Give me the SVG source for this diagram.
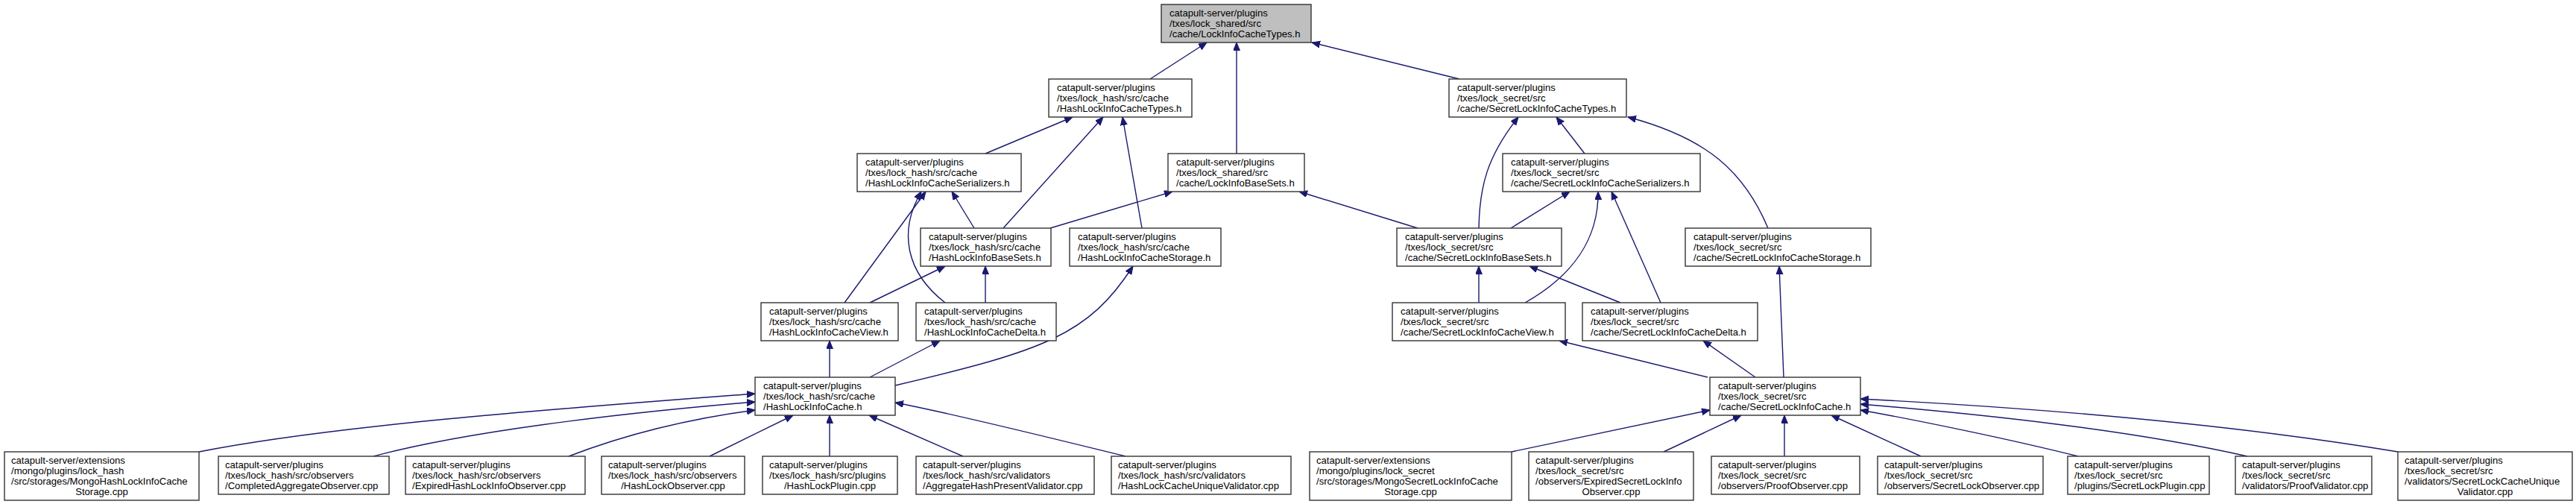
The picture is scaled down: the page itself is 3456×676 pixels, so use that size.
<svg xmlns="http://www.w3.org/2000/svg" width="3456" height="676" viewBox="0 0 3456 676">
<style>
.box{fill:#ffffff;stroke:#333333;stroke-width:1.4}
.root{fill:#bfbfbf;stroke:#333333;stroke-width:1.4}
text{font-family:"Liberation Sans",Arial,Helvetica,sans-serif;font-size:13.1px;fill:#000000}
.c{text-anchor:middle}
.e{fill:none;stroke:#191970;stroke-width:1.4;marker-end:url(#arr)}
</style>
<defs>
<marker id="arr" markerUnits="userSpaceOnUse" markerWidth="13" markerHeight="11" refX="11" refY="4.5" orient="auto">
<path d="M0,0 L11,4.5 L0,9 z" fill="#191970" stroke="#191970" stroke-width="1"/>
</marker>
</defs>
<rect width="3456" height="676" fill="#ffffff"/>
<g id="edges">
<path class="e" d="M1543,106 L1619,57"/>
<path class="e" d="M1659,206 L1659,57"/>
<path class="e" d="M1958,106 L1760,57"/>
<path class="e" d="M1322,206 L1439,157"/>
<path class="e" d="M1346,306 L1480,157"/>
<path class="e" d="M1532,306 L1506,157"/>
<path class="e" d="M1984,306 C1985,250 1995,210 2037,157"/>
<path class="e" d="M2126,206 L2088,157"/>
<path class="e" d="M2372,306 C2340,230 2290,185 2184,157"/>
<path class="e" d="M1133,406 L1242,257"/>
<path class="e" d="M1268,406 C1215,365 1205,310 1236,257"/>
<path class="e" d="M1307,306 L1277,257"/>
<path class="e" d="M1409,306 L1573,257"/>
<path class="e" d="M1902,306 L1743,257"/>
<path class="e" d="M1167,406 L1268,357"/>
<path class="e" d="M1322,406 L1322,357"/>
<path class="e" d="M1201,517 C1400,470 1460,450 1520,357"/>
<path class="e" d="M2027,306 L2106,257"/>
<path class="e" d="M2046,406 C2110,370 2145,320 2144,257"/>
<path class="e" d="M2228,406 L2162,257"/>
<path class="e" d="M1984,406 L1984,357"/>
<path class="e" d="M2174,406 L2052,357"/>
<path class="e" d="M2393,506 L2387,357"/>
<path class="e" d="M1113,506 L1113,457"/>
<path class="e" d="M1167,506 L1261,457"/>
<path class="e" d="M2291,506 L2092,457"/>
<path class="e" d="M2355,506 L2285,457"/>
<path class="e" d="M267,606 C450,570 750,548 1013,528"/>
<path class="e" d="M501,612 C620,580 820,555 1013,539"/>
<path class="e" d="M763,612 C820,590 900,565 1013,550"/>
<path class="e" d="M952,612 L1064,557"/>
<path class="e" d="M1113,612 L1113,557"/>
<path class="e" d="M1292,612 L1166,557"/>
<path class="e" d="M1510,612 C1400,585 1280,555 1201,540"/>
<path class="e" d="M2028,606 L2294,550"/>
<path class="e" d="M2232,606 L2336,557"/>
<path class="e" d="M2394,612 L2394,557"/>
<path class="e" d="M2577,612 L2457,557"/>
<path class="e" d="M2788,612 C2700,590 2580,565 2496,550"/>
<path class="e" d="M3015,612 C2850,575 2650,555 2496,542"/>
<path class="e" d="M3217,606 C3000,570 2750,548 2496,535"/>
</g>
<g id="n0"><rect class="root" x="1558" y="6" width="201" height="51"/>
<text x="1569" y="22">catapult-server/plugins</text><text x="1569" y="36">/txes/lock_shared/src</text><text x="1569" y="50">/cache/LockInfoCacheTypes.h</text></g>
<g id="n1"><rect class="box" x="1407" y="106" width="192" height="51"/>
<text x="1418" y="122">catapult-server/plugins</text><text x="1418" y="136">/txes/lock_hash/src/cache</text><text x="1418" y="150">/HashLockInfoCacheTypes.h</text></g>
<g id="n2"><rect class="box" x="1944" y="106" width="238" height="51"/>
<text x="1955" y="122">catapult-server/plugins</text><text x="1955" y="136">/txes/lock_secret/src</text><text x="1955" y="150">/cache/SecretLockInfoCacheTypes.h</text></g>
<g id="n3"><rect class="box" x="1150" y="206" width="220" height="51"/>
<text x="1161" y="222">catapult-server/plugins</text><text x="1161" y="236">/txes/lock_hash/src/cache</text><text x="1161" y="250">/HashLockInfoCacheSerializers.h</text></g>
<g id="n4"><rect class="box" x="1567" y="206" width="183" height="51"/>
<text x="1578" y="222">catapult-server/plugins</text><text x="1578" y="236">/txes/lock_shared/src</text><text x="1578" y="250">/cache/LockInfoBaseSets.h</text></g>
<g id="n5"><rect class="box" x="2016" y="206" width="265" height="51"/>
<text x="2027" y="222">catapult-server/plugins</text><text x="2027" y="236">/txes/lock_secret/src</text><text x="2027" y="250">/cache/SecretLockInfoCacheSerializers.h</text></g>
<g id="n6"><rect class="box" x="1235" y="306" width="175" height="51"/>
<text x="1246" y="322">catapult-server/plugins</text><text x="1246" y="336">/txes/lock_hash/src/cache</text><text x="1246" y="350">/HashLockInfoBaseSets.h</text></g>
<g id="n7"><rect class="box" x="1435" y="306" width="203" height="51"/>
<text x="1446" y="322">catapult-server/plugins</text><text x="1446" y="336">/txes/lock_hash/src/cache</text><text x="1446" y="350">/HashLockInfoCacheStorage.h</text></g>
<g id="n8"><rect class="box" x="1874" y="306" width="221" height="51"/>
<text x="1885" y="322">catapult-server/plugins</text><text x="1885" y="336">/txes/lock_secret/src</text><text x="1885" y="350">/cache/SecretLockInfoBaseSets.h</text></g>
<g id="n9"><rect class="box" x="2261" y="306" width="249" height="51"/>
<text x="2272" y="322">catapult-server/plugins</text><text x="2272" y="336">/txes/lock_secret/src</text><text x="2272" y="350">/cache/SecretLockInfoCacheStorage.h</text></g>
<g id="n10"><rect class="box" x="1021" y="406" width="184" height="51"/>
<text x="1032" y="422">catapult-server/plugins</text><text x="1032" y="436">/txes/lock_hash/src/cache</text><text x="1032" y="450">/HashLockInfoCacheView.h</text></g>
<g id="n11"><rect class="box" x="1229" y="406" width="188" height="51"/>
<text x="1240" y="422">catapult-server/plugins</text><text x="1240" y="436">/txes/lock_hash/src/cache</text><text x="1240" y="450">/HashLockInfoCacheDelta.h</text></g>
<g id="n12"><rect class="box" x="1868" y="406" width="232" height="51"/>
<text x="1879" y="422">catapult-server/plugins</text><text x="1879" y="436">/txes/lock_secret/src</text><text x="1879" y="450">/cache/SecretLockInfoCacheView.h</text></g>
<g id="n13"><rect class="box" x="2123" y="406" width="235" height="51"/>
<text x="2134" y="422">catapult-server/plugins</text><text x="2134" y="436">/txes/lock_secret/src</text><text x="2134" y="450">/cache/SecretLockInfoCacheDelta.h</text></g>
<g id="n14"><rect class="box" x="1013" y="506" width="188" height="51"/>
<text x="1024" y="522">catapult-server/plugins</text><text x="1024" y="536">/txes/lock_hash/src/cache</text><text x="1024" y="550">/HashLockInfoCache.h</text></g>
<g id="n15"><rect class="box" x="2294" y="506" width="202" height="51"/>
<text x="2305" y="522">catapult-server/plugins</text><text x="2305" y="536">/txes/lock_secret/src</text><text x="2305" y="550">/cache/SecretLockInfoCache.h</text></g>
<g id="n16"><rect class="box" x="6" y="606" width="261" height="65"/>
<text x="15" y="622">catapult-server/extensions</text><text x="15" y="636">/mongo/plugins/lock_hash</text><text x="15" y="650">/src/storages/MongoHashLockInfoCache</text><text class="c" x="136.5" y="664">Storage.cpp</text></g>
<g id="n17"><rect class="box" x="293" y="612" width="229" height="51"/>
<text x="302" y="628">catapult-server/plugins</text><text x="302" y="642">/txes/lock_hash/src/observers</text><text x="302" y="656">/CompletedAggregateObserver.cpp</text></g>
<g id="n18"><rect class="box" x="544" y="612" width="241" height="51"/>
<text x="553" y="628">catapult-server/plugins</text><text x="553" y="642">/txes/lock_hash/src/observers</text><text x="553" y="656">/ExpiredHashLockInfoObserver.cpp</text></g>
<g id="n19"><rect class="box" x="807" y="612" width="192" height="51"/>
<text x="816" y="628">catapult-server/plugins</text><text x="816" y="642">/txes/lock_hash/src/observers</text><text class="c" x="903" y="656">/HashLockObserver.cpp</text></g>
<g id="n20"><rect class="box" x="1023" y="612" width="181" height="51"/>
<text x="1032" y="628">catapult-server/plugins</text><text x="1032" y="642">/txes/lock_hash/src/plugins</text><text class="c" x="1113.5" y="656">/HashLockPlugin.cpp</text></g>
<g id="n21"><rect class="box" x="1229" y="612" width="239" height="51"/>
<text x="1238" y="628">catapult-server/plugins</text><text x="1238" y="642">/txes/lock_hash/src/validators</text><text x="1238" y="656">/AggregateHashPresentValidator.cpp</text></g>
<g id="n22"><rect class="box" x="1491" y="612" width="241" height="51"/>
<text x="1500" y="628">catapult-server/plugins</text><text x="1500" y="642">/txes/lock_hash/src/validators</text><text x="1500" y="656">/HashLockCacheUniqueValidator.cpp</text></g>
<g id="n23"><rect class="box" x="1757" y="606" width="271" height="65"/>
<text x="1766" y="622">catapult-server/extensions</text><text x="1766" y="636">/mongo/plugins/lock_secret</text><text x="1766" y="650">/src/storages/MongoSecretLockInfoCache</text><text class="c" x="1892.5" y="664">Storage.cpp</text></g>
<g id="n24"><rect class="box" x="2051" y="606" width="221" height="65"/>
<text x="2060" y="622">catapult-server/plugins</text><text x="2060" y="636">/txes/lock_secret/src</text><text x="2060" y="650">/observers/ExpiredSecretLockInfo</text><text class="c" x="2161.5" y="664">Observer.cpp</text></g>
<g id="n25"><rect class="box" x="2296" y="612" width="199" height="51"/>
<text x="2305" y="628">catapult-server/plugins</text><text x="2305" y="642">/txes/lock_secret/src</text><text x="2305" y="656">/observers/ProofObserver.cpp</text></g>
<g id="n26"><rect class="box" x="2519" y="612" width="222" height="51"/>
<text x="2528" y="628">catapult-server/plugins</text><text x="2528" y="642">/txes/lock_secret/src</text><text x="2528" y="656">/observers/SecretLockObserver.cpp</text></g>
<g id="n27"><rect class="box" x="2774" y="612" width="190" height="51"/>
<text x="2783" y="628">catapult-server/plugins</text><text x="2783" y="642">/txes/lock_secret/src</text><text x="2783" y="656">/plugins/SecretLockPlugin.cpp</text></g>
<g id="n28"><rect class="box" x="2999" y="612" width="183" height="51"/>
<text x="3008" y="628">catapult-server/plugins</text><text x="3008" y="642">/txes/lock_secret/src</text><text x="3008" y="656">/validators/ProofValidator.cpp</text></g>
<g id="n29"><rect class="box" x="3217" y="606" width="234" height="65"/>
<text x="3226" y="622">catapult-server/plugins</text><text x="3226" y="636">/txes/lock_secret/src</text><text x="3226" y="650">/validators/SecretLockCacheUnique</text><text class="c" x="3334" y="664">Validator.cpp</text></g>
</svg>
